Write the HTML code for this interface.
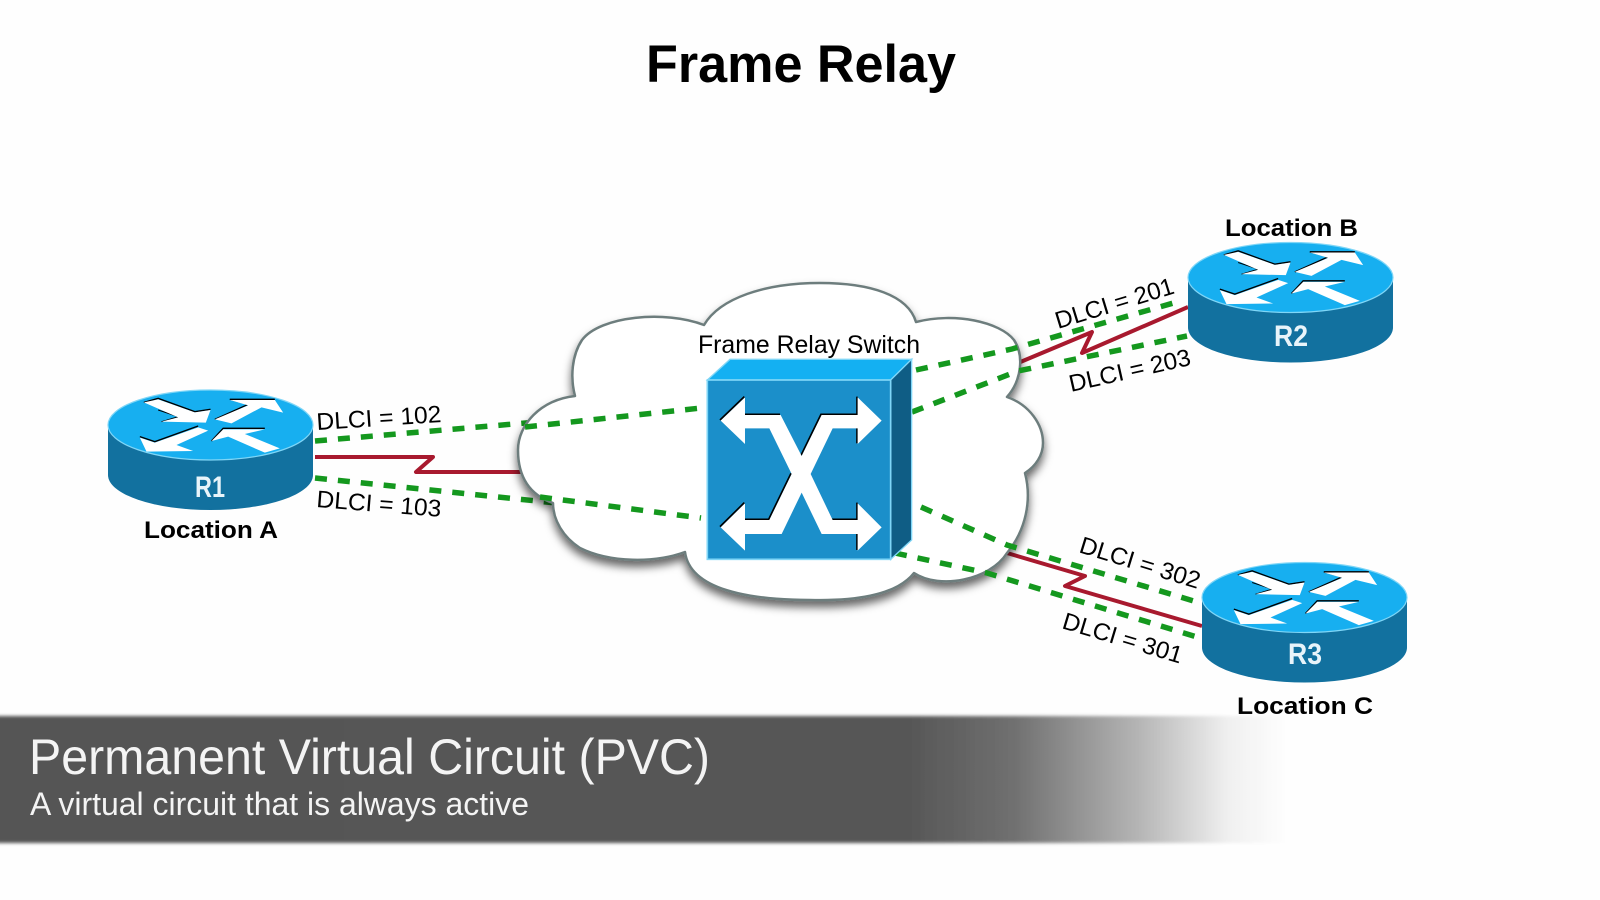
<!DOCTYPE html>
<html>
<head>
<meta charset="utf-8">
<style>
html,body{margin:0;padding:0;background:#fefefe;}
svg{display:block;}
text{font-family:"Liberation Sans",sans-serif;}
</style>
</head>
<body>
<svg width="1600" height="900" viewBox="0 0 1600 900" xmlns="http://www.w3.org/2000/svg">
<defs>
  <filter id="cs" x="-10%" y="-10%" width="120%" height="125%">
    <feDropShadow dx="0" dy="6" stdDeviation="4.5" flood-color="#000" flood-opacity="0.6"/>
  </filter>
  <filter id="bl" x="-5%" y="-20%" width="110%" height="140%">
    <feGaussianBlur stdDeviation="1.5"/>
  </filter>
  <linearGradient id="fade" x1="0" y1="0" x2="1300" y2="0" gradientUnits="userSpaceOnUse">
    <stop offset="0" stop-color="#555"/>
    <stop offset="0.70" stop-color="#575757"/>
    <stop offset="0.78" stop-color="#707070"/>
    <stop offset="0.876" stop-color="#b5b5b5"/>
    <stop offset="0.945" stop-color="#f0f0f0"/>
    <stop offset="0.99" stop-color="#fefefe"/>
  </linearGradient>
  <g id="router">
    <ellipse cx="0" cy="50" rx="102.5" ry="35" fill="#12719f"/>
    <rect x="-102.5" y="0" width="205" height="50" fill="#12719f"/>
    <ellipse cx="0" cy="0" rx="102.5" ry="35" fill="#17aff0" stroke="#7fd6f7" stroke-width="1.2"/>
    <g transform="scale(0.3333) translate(-392,-165)">
      <polyline points="192,97 235,85 345,125 392,118" fill="none" stroke="#000" stroke-width="4"/>
      <polyline points="245,155 295,140 235,120" fill="none" stroke="#000" stroke-width="3"/>
      <polyline points="405,148 505,103 450,88 585,88" fill="none" stroke="#000" stroke-width="4"/>
      <polyline points="180,200 225,215 355,168" fill="none" stroke="#000" stroke-width="4"/>
      <polyline points="395,213 430,175 555,175" fill="none" stroke="#000" stroke-width="4"/>
      <polygon fill="#fff" points="192,97 235,88 345,127 392,120 378,158 245,155 295,142"/>
      <polygon fill="#fff" points="405,148 505,106 450,90 585,90 610,128 545,112 455,160"/>
      <polygon fill="#fff" points="180,203 225,218 355,172 385,182 290,225 340,243 200,245"/>
      <polygon fill="#fff" points="395,213 430,178 555,178 495,192 600,235 555,248 445,200"/>
    </g>
  </g>
</defs>

<rect width="1600" height="900" fill="#fefefe"/>

<text x="646" y="82" font-size="53" font-weight="bold" fill="#000" textLength="310" lengthAdjust="spacingAndGlyphs">Frame Relay</text>

<!-- outer segments beneath cloud -->
<g fill="none" stroke="#14981e" stroke-width="5.5" stroke-dasharray="12 11">
  <line x1="315" y1="441" x2="701" y2="408"/>
  <line x1="315" y1="478" x2="701" y2="518"/>
</g>
<g fill="none" stroke="#a8192e" stroke-width="4" stroke-linejoin="round">
  <polyline points="315,457 433,457 416,472 523,472"/>
  <polyline points="1018,363 1092,332 1082,353 1188,307"/>
  <polyline points="1007,553 1085,576 1065,586 1202,626"/>
</g>

<!-- cloud -->
<path filter="url(#cs)" fill="#fff" stroke="#6d7d7d" stroke-width="2.5" stroke-linejoin="round"
 d="M575,396 C570,377 572,355 582,340 C600,316 665,310 704,325
    C720,298 765,283 820,283 C870,283 908,295 916,322
    C955,312 1000,322 1014,340 C1024,355 1022,380 1007,397
    C1030,405 1043,425 1043,443 C1043,455 1036,466 1025,473
    C1032,500 1026,530 1007,553 C990,580 940,590 914,573
    C895,597 850,601 810,600 C750,600 690,590 685,552
    C655,563 610,563 580,548 C563,537 553,520 553,503
    C530,495 518,478 518,450 C518,425 540,400 575,396 Z"/>

<!-- inner / right green -->
<g fill="none" stroke="#14981e" stroke-width="5.5" stroke-dasharray="12 11">
  <line x1="525" y1="427" x2="701" y2="408"/>
  <line x1="540" y1="497" x2="701" y2="518"/>
  <polyline points="916,370 1012,349 1177,302"/>
  <polyline points="912,412 1018,371 1187,336"/>
  <polyline points="921,507 1007,545 1197,602"/>
  <polyline points="895,553 987,573 1197,637"/>
</g>

<!-- switch -->
<g transform="translate(680,320) scale(0.3333)">
  <polygon points="82,180 150,118 695,118 632,180" fill="#14b0f2" stroke="#7fd6f7" stroke-width="4"/>
  <polygon points="632,180 695,118 695,660 632,718" fill="#0f5d85" stroke="#7fd6f7" stroke-width="4"/>
  <rect x="82" y="180" width="550" height="538" fill="#1b8fca" stroke="#7fd6f7" stroke-width="5"/>
  <g fill="none" stroke="#000" stroke-width="5" transform="translate(-2,-2)">
    <polyline points="122,302 195,232"/>
    <polyline points="195,285 302,285"/>
    <polyline points="365,408 425,285 533,285 533,232"/>
    <polyline points="533,325 533,372"/>
    <polyline points="458,600 533,600 533,550"/>
    <polyline points="533,642 533,692"/>
    <polyline points="122,622 195,550"/>
    <polyline points="195,600 268,600 335,462"/>
  </g>
  <polygon fill="#fff" points="122,302 195,232 195,285 302,285 365,408 425,285 533,285 533,232 605,302 533,372 533,325 458,325 392,462 458,600 533,600 533,550 605,622 533,692 533,642 425,642 365,518 305,642 195,642 195,692 122,622 195,550 195,600 268,600 335,462 268,325 195,325 195,372"/>
</g>

<text x="698" y="353" font-size="25" fill="#000" textLength="222" lengthAdjust="spacingAndGlyphs">Frame Relay Switch</text>

<!-- routers -->
<use href="#router" x="210.5" y="425"/>
<use href="#router" x="1290.5" y="277.5"/>
<use href="#router" x="1304.5" y="597.5"/>

<g fill="#e8f4fa" font-size="30" font-weight="bold">
  <text x="195" y="497" textLength="30" lengthAdjust="spacingAndGlyphs">R1</text>
  <text x="1274" y="346" textLength="34" lengthAdjust="spacingAndGlyphs">R2</text>
  <text x="1288" y="664" textLength="34" lengthAdjust="spacingAndGlyphs">R3</text>
</g>

<g fill="#000" font-size="24" font-weight="bold">
  <text x="144" y="538" textLength="134" lengthAdjust="spacingAndGlyphs">Location A</text>
  <text x="1225" y="236" textLength="133" lengthAdjust="spacingAndGlyphs">Location B</text>
  <text x="1237" y="714" textLength="136" lengthAdjust="spacingAndGlyphs">Location C</text>
</g>

<g fill="#000" font-size="24">
  <text transform="translate(317,430) rotate(-3.7)" textLength="125" lengthAdjust="spacingAndGlyphs">DLCI = 102</text>
  <text transform="translate(316,507) rotate(4.5)" textLength="125" lengthAdjust="spacingAndGlyphs">DLCI = 103</text>
  <text transform="translate(1058,329) rotate(-17)" textLength="123" lengthAdjust="spacingAndGlyphs">DLCI = 201</text>
  <text transform="translate(1071,392) rotate(-12.7)" textLength="124" lengthAdjust="spacingAndGlyphs">DLCI = 203</text>
  <text transform="translate(1078,552) rotate(17.2)" textLength="125" lengthAdjust="spacingAndGlyphs">DLCI = 302</text>
  <text transform="translate(1061,628) rotate(16.7)" textLength="124" lengthAdjust="spacingAndGlyphs">DLCI = 301</text>
</g>

<!-- bottom bar -->
<rect x="-6" y="716" width="1306" height="127" fill="url(#fade)" filter="url(#bl)"/>
<text x="29" y="774" font-size="50" fill="#f4f4f4" textLength="681" lengthAdjust="spacingAndGlyphs">Permanent Virtual Circuit (PVC)</text>
<text x="30" y="815" font-size="32" fill="#f4f4f4" textLength="499" lengthAdjust="spacingAndGlyphs">A virtual circuit that is always active</text>
</svg>
</body>
</html>
